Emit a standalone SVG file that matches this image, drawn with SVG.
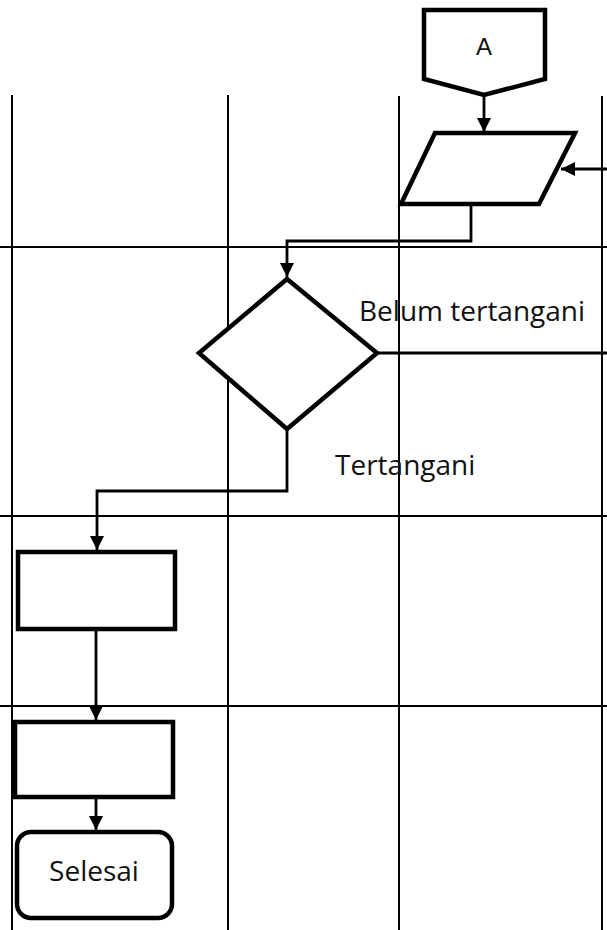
<svg xmlns="http://www.w3.org/2000/svg" width="607" height="930" viewBox="0 0 607 930">
<style>
.lane{stroke:#000;stroke-width:2;fill:none}
.shape{stroke:#000;stroke-width:4.5;fill:#fff;stroke-linejoin:miter}
.conn{stroke:#000;stroke-width:2.8;fill:none}
.lbl{font-family:"Open Sans","DejaVu Sans",sans-serif;font-size:28px;fill:#111}
</style>
<defs>
<marker id="arr" viewBox="0 0 10 10" refX="10" refY="5" markerWidth="5.2" markerHeight="5" orient="auto" markerUnits="strokeWidth">
<path d="M0,0 L10,5 L0,10 z" fill="#000"/>
</marker>
</defs>
<rect width="607" height="930" fill="#fff"/>
<g id="lanes">
<line class="lane" x1="12" y1="95" x2="12" y2="930"/>
<line class="lane" x1="228" y1="95" x2="228" y2="930"/>
<line class="lane" x1="399" y1="96" x2="399" y2="930"/>
<line class="lane" x1="602" y1="96" x2="602" y2="930"/>
<line class="lane" x1="0" y1="247" x2="607" y2="247"/>
<line class="lane" x1="0" y1="516" x2="607" y2="516"/>
<line class="lane" x1="0" y1="706" x2="607" y2="706"/>
</g>
<g id="connectors">
<line class="conn" x1="484" y1="96" x2="484" y2="132" marker-end="url(#arr)"/>
<line class="conn" x1="607" y1="169" x2="561" y2="169" marker-end="url(#arr)"/>
<polyline class="conn" points="471,205 471,241 287,241 287,277" marker-end="url(#arr)"/>
<line class="conn" x1="378" y1="353" x2="607" y2="353"/>
<polyline class="conn" points="287,430 287,491 97,491 97,550" marker-end="url(#arr)"/>
<line class="conn" x1="96" y1="630" x2="96" y2="720" marker-end="url(#arr)"/>
<line class="conn" x1="96" y1="798" x2="96" y2="830" marker-end="url(#arr)"/>
</g>
<g id="node-A">
<polygon class="shape" points="424,10 545,10 545,79 484,95 424,79"/>
<text x="484" y="55" text-anchor="middle" style="font-family:'Liberation Sans',Arial,sans-serif;font-size:24px;fill:#111">A</text>
</g>
<g id="node-input">
<polygon class="shape" points="435,133 575,133 539,204 401,204"/>
</g>
<g id="node-decision">
<polygon class="shape" points="287,279 377,353 287,429 199,353"/>
</g>
<g id="label-belum">
<text class="lbl" x="359" y="321">Belum tertangani</text>
</g>
<g id="label-tertangani">
<text class="lbl" x="335" y="475">Tertangani</text>
</g>
<g id="node-process1">
<rect class="shape" x="18" y="552" width="157" height="77"/>
</g>
<g id="node-process2">
<rect class="shape" x="15" y="722" width="158" height="75"/>
</g>
<g id="node-selesai">
<rect class="shape" x="17" y="832" width="155" height="86" rx="14" ry="14"/>
<text class="lbl" x="94" y="881" text-anchor="middle">Selesai</text>
</g>
</svg>
